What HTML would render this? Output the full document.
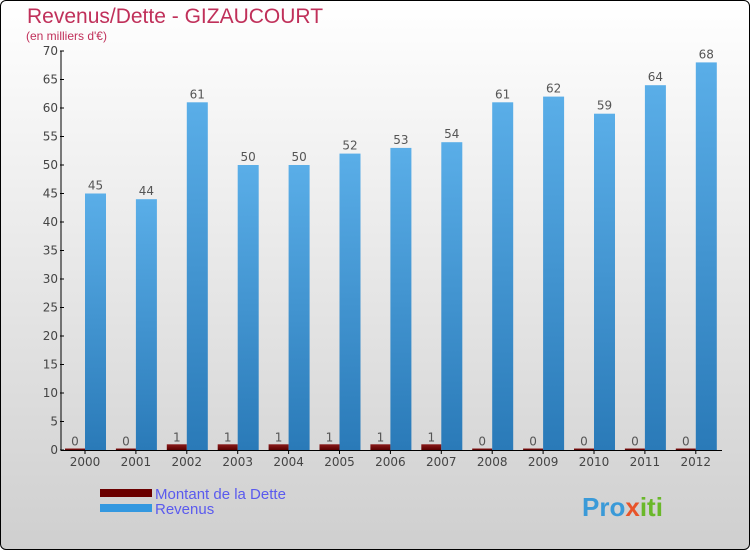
<!DOCTYPE html>
<html><head><meta charset="utf-8"><style>
body{margin:0}
#wrap{position:relative;width:748px;height:548px;border:1px solid #000;border-radius:6px;overflow:hidden;background:linear-gradient(#ffffff,#cfcfcf);font-family:"DejaVu Sans","Liberation Sans",sans-serif}
</style></head><body>
<div id="wrap">
<svg id="chart" width="750" height="550" style="position:absolute;left:-1px;top:-1px">
<defs>
<linearGradient id="rev" x1="0" y1="0" x2="0" y2="1"><stop offset="0" stop-color="#5aaee8"/><stop offset="1" stop-color="#2a7ab8"/></linearGradient>
<linearGradient id="det" x1="0" y1="0" x2="0" y2="1"><stop offset="0" stop-color="#8a1a1a"/><stop offset="1" stop-color="#5a0000"/></linearGradient>
</defs>
<text x="27" y="23" font-size="21" fill="#c0305a" font-family="Liberation Sans,sans-serif">Revenus/Dette - GIZAUCOURT</text>
<text x="26" y="40" font-size="12" fill="#c0305a" font-family="Liberation Sans,sans-serif">(en milliers d'€)</text>
<g id="axes"></g><g id="bars"></g>
<rect x="100" y="489" width="52" height="8" fill="#6b0000"/>
<rect x="100" y="504" width="52" height="8" fill="#3398e0"/>
<text x="155" y="499" font-size="15" fill="#5a5aee" font-family="Liberation Sans,sans-serif">Montant de la Dette</text>
<text x="155" y="514" font-size="15" fill="#5a5aee" font-family="Liberation Sans,sans-serif">Revenus</text>
<text x="582" y="516" font-size="26" font-weight="bold" fill="#3a9ad8" font-family="Liberation Sans,sans-serif">Pro<tspan fill="#e8542a">x</tspan><tspan fill="#6ab82a">iti</tspan></text>
</svg>
</div>
<script>
const years=["2000","2001","2002","2003","2004","2005","2006","2007","2008","2009","2010","2011","2012"];
const dette=[0,0,1,1,1,1,1,1,0,0,0,0,0];
const revenus=[45,44,61,50,50,52,53,54,61,62,59,64,68];
const yTicks=[0,5,10,15,20,25,30,35,40,45,50,55,60,65,70];
const NS="http://www.w3.org/2000/svg";
const y0=450,yTop=51,yMax=70,x0=85,step=50.9,axisX=61;
const Y=v=>y0-(v/yMax)*(y0-yTop);
const X=i=>x0+i*step;
function mk(t,a,p){const e=document.createElementNS(NS,t);for(const k in a)e.setAttribute(k,a[k]);p.appendChild(e);return e;}
const ax=document.getElementById('axes'),bars=document.getElementById('bars');
let l=mk('line',{x1:axisX,y1:yTop,x2:axisX,y2:y0,stroke:'#000'},ax);


l=mk('line',{x1:axisX,y1:y0+0.5,x2:722,y2:y0+0.5,stroke:'#000'},ax);


yTicks.forEach(v=>{
 const t=mk('line',{x1:axisX-1,x2:axisX+3,y1:Y(v),y2:Y(v),stroke:'#000'},ax);
 
 
 const tx=mk('text',{x:axisX-3,y:Y(v)+4,'font-size':12,'text-anchor':'end',fill:'#444'},ax);
 tx.textContent=v;
 
 
});
years.forEach((yr,i)=>{
 const c=X(i);
 const t=mk('line',{x1:c,x2:c,y1:y0,y2:y0+4,stroke:'#000'},ax);
 
 
 const tx=mk('text',{x:c,y:y0+16,'font-size':12,'text-anchor':'middle',fill:'#444'},ax);
 tx.textContent=yr;
 
 
 const dh=Math.max(Y(0)-Y(dette[i]),1.5);
 const d=mk('rect',{x:c-20,y:y0-dh,width:20,height:dh,fill:'url(#det)'},bars);
 
 
 const dl=mk('text',{x:c-10,y:y0-dh-3,'font-size':12,'text-anchor':'middle',fill:'#555'},bars);
 dl.textContent=dette[i];
 
 
 const r=mk('rect',{x:c,y:Y(revenus[i]),width:21,height:y0-Y(revenus[i]),fill:'url(#rev)'},bars);
 
 
 const rl=mk('text',{x:c+10.5,y:Y(revenus[i])-4,'font-size':12,'text-anchor':'middle',fill:'#555'},bars);
 rl.textContent=revenus[i];
 
 
});
</script>
</body></html>
